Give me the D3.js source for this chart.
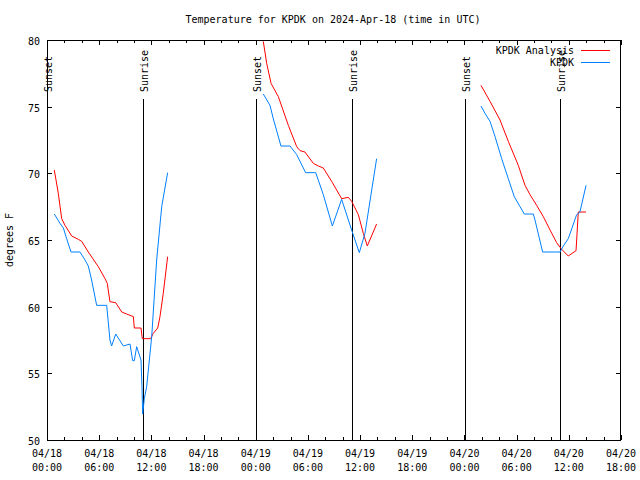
<!DOCTYPE html>
<html><head><meta charset="utf-8">
<script src="https://cdn.jsdelivr.net/npm/d3@7"></script>
<style>body{margin:0;background:#fff}svg{display:block}text{font-family:"DejaVu Sans Mono",monospace;font-size:10px;fill:#000}</style>
</head><body><svg id="c" width="640" height="480"></svg>
<script>
// hours since 2024-04-18 00:00 UTC; null separates segments
const analysisHours = [0.84,1.30,1.69,2.07,2.84,3.6,3.99,4.75,5.9,6.67,6.93,7.24,7.9,8.59,9.16,9.93,10.04,10.81,10.96,11.92,12.22,12.73,12.99,13.37,13.87,null,
  24.87,25.26,25.76,26.6,27.75,28.71,29.09,29.66,30.62,31.2,31.77,32.73,33.88,34.65,35.03,35.8,36.37,36.83,37.9,null,
  49.9,50.94,52.09,53.04,54.19,54.96,55.54,56.3,57.07,57.84,58.6,59.18,59.94,60.83,61.09,61.98];
const analysisTemps = [70.25,68.5,66.6,66.1,65.3,65.05,64.9,64.1,63.0,62.1,61.75,60.37,60.3,59.6,59.45,59.25,58.4,58.4,57.6,57.6,58.0,58.4,59.25,61.0,63.75,null,
  79.9,78.25,76.75,75.75,73.6,72.0,71.7,71.6,70.75,70.55,70.4,69.4,68.1,68.2,67.9,66.9,65.5,64.55,66.2,null,
  76.6,75.4,74.0,72.4,70.6,69.1,68.4,67.6,66.75,65.75,64.8,64.3,63.8,64.2,67.1,67.1];
const obsHours = [0.84,1.49,1.88,2.26,2.76,3.79,4.37,4.75,5.13,5.71,6.86,7.24,7.43,7.9,8.78,9.54,9.85,10.04,10.31,10.81,10.92,11.0,11.19,11.46,12.04,12.61,13.19,13.87,null,
  24.87,25.64,26.02,26.9,27.94,28.71,29.74,30.9,31.77,32.81,33.88,35.03,35.91,36.56,37.9,null,
  49.9,50.36,50.94,51.52,52.28,53.04,53.73,54.39,54.88,55.92,56.11,56.99,58.99,59.37,59.94,60.9,61.28,61.98];
const obsTemps = [66.95,66.25,65.9,65.1,64.1,64.1,63.5,63.05,62.0,60.1,60.1,57.5,57.05,57.95,57.05,57.2,55.95,55.95,57.0,56.0,54.0,51.95,53.1,54.0,57.75,63.5,67.5,70.05,null,
  75.95,75.1,74.1,72.05,72.05,71.4,70.05,70.05,68.4,66.05,68.05,65.75,64.05,65.5,71.1,null,
  75.05,74.5,73.9,72.75,71.1,69.6,68.25,67.5,66.95,66.95,66.5,64.1,64.1,64.55,65.1,66.9,67.1,69.1];
const sunHours = [0.05,11.05,24.08,35.05,48.1,59.0];
const sunLabels = ["Sunset","Sunrise","Sunset","Sunrise","Sunset","Sunrise"];
const xTickHours = [0,6,12,18,24,30,36,42,48,54,60,66];
const xTickDates = ["04/18","04/18","04/18","04/18","04/19","04/19","04/19","04/19","04/20","04/20","04/20","04/20"];
const xTickTimes = ["00:00","06:00","12:00","18:00","00:00","06:00","12:00","18:00","00:00","06:00","12:00","18:00"];
const yTicks = [50,55,60,65,70,75,80];
const seriesNames = ["KPDK Analysis","KPDK"];
const seriesColors = ["#ff0000","#0080ff"];

const svg = d3.select("#c");
const L=47,R=621,T=40,B=440;
const x = d3.scaleLinear().domain([0,66]).range([L,R]);
const y = d3.scaleLinear().domain([50,80]).range([B,T]);

svg.append("text").attr("x",333).attr("y",23).attr("text-anchor","middle").text("Temperature for KPDK on 2024-Apr-18 (time in UTC)");
svg.append("text").attr("transform","translate(13,240) rotate(-90)").attr("text-anchor","middle").text("degrees F");

// ticks
const minor = d3.range(0,67,2);
const g = svg.append("g").attr("stroke","#000").attr("stroke-width",1).attr("shape-rendering","crispEdges");
minor.forEach(h=>{
  const len = h%6===0?5:3, xx=Math.round(x(h))+0.5;
  g.append("line").attr("x1",xx).attr("x2",xx).attr("y1",B).attr("y2",B-len);
  g.append("line").attr("x1",xx).attr("x2",xx).attr("y1",T).attr("y2",T+len);
});
yTicks.forEach(v=>{
  const yy=Math.round(y(v))+0.5;
  g.append("line").attr("x1",L).attr("x2",L+5).attr("y1",yy).attr("y2",yy);
  g.append("line").attr("x1",R).attr("x2",R-5).attr("y1",yy).attr("y2",yy);
  svg.append("text").attr("x",L-7).attr("y",yy+4).attr("text-anchor","end").text(v);
});
xTickHours.forEach((h,i)=>{
  const t = svg.append("text").attr("x",x(h)).attr("text-anchor","middle");
  t.append("tspan").attr("x",x(h)).attr("y",457).text(xTickDates[i]);
  t.append("tspan").attr("x",x(h)).attr("y",471).text(xTickTimes[i]);
});

// sun lines
sunHours.forEach((h,i)=>{
  const xx=Math.round(x(h))+0.5;
  g.append("line").attr("x1",xx).attr("x2",xx).attr("y1",99).attr("y2",B);
  svg.append("text").attr("transform",`translate(${xx+4},92) rotate(-90)`).attr("text-anchor","start").text(sunLabels[i]);
});

// border
svg.append("rect").attr("x",L+0.5).attr("y",T+0.5).attr("width",R-L-1).attr("height",B-T).attr("fill","none").attr("stroke","#000").attr("shape-rendering","crispEdges");

// series
const mk = (hs,ts)=>hs.map((h,i)=>({h,t:ts[i]}));
const line = d3.line().defined(d=>d.h!=null&&d.t!=null).x(d=>x(d.h)).y(d=>y(d.t));
const clip = svg.append("clipPath").attr("id","cp").append("rect").attr("x",L).attr("y",T).attr("width",R-L).attr("height",B-T);
[[analysisHours,analysisTemps],[obsHours,obsTemps]].forEach((s,i)=>{
  svg.append("path").attr("d",line(mk(s[0],s[1]))).attr("fill","none").attr("stroke",seriesColors[i]).attr("stroke-width",1).attr("clip-path","url(#cp)");
});

// legend
seriesNames.forEach((n,i)=>{
  const yy=50+i*12;
  svg.append("text").attr("x",574).attr("y",yy+4).attr("text-anchor","end").text(n);
  svg.append("line").attr("x1",581).attr("x2",610).attr("y1",yy+0.5).attr("y2",yy+0.5).attr("stroke",seriesColors[i]).attr("stroke-width",1);
});
</script></body></html>
